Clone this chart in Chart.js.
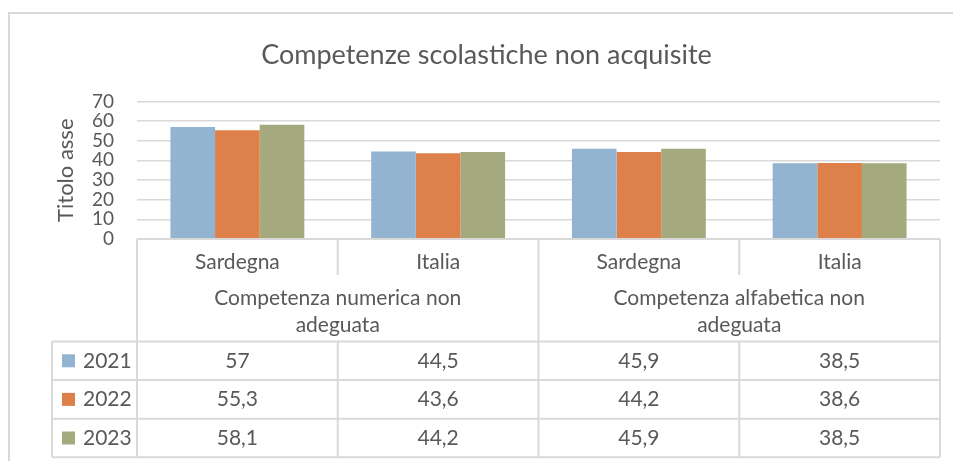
<!DOCTYPE html>
<html>
<head>
<meta charset="utf-8">
<script src="https://cdn.jsdelivr.net/npm/chart.js@4"></script>
<style>
    html, body { margin: 0; padding: 0; background: #fff; }
    canvas { display: block; }
</style>
</head>
<body>
<canvas id="competenzeChart" width="953" height="461"></canvas>
<script>
const categories = ['Sardegna', 'Italia', 'Sardegna', 'Italia'];
const groupLabels = [
    ['Competenza numerica non', 'adeguata'],
    ['Competenza alfabetica non', 'adeguata']
];
const years = ['2021', '2022', '2023'];
const values2021 = [57, 44.5, 45.9, 38.5];
const values2022 = [55.3, 43.6, 44.2, 38.6];
const values2023 = [58.1, 44.2, 45.9, 38.5];
const yTicks = [0, 10, 20, 30, 40, 50, 60, 70];

const rows = [values2021, values2022, values2023];
const colors = ['#93b4d1', '#de8049', '#a4aa7e'];
const textColor = '#595959';
const lineColor = '#d9d9d9';
const fontFamily = 'Lato, "Open Sans", sans-serif';

const fmt = v => String(v).replace('.', ',');

// frame + excel style data table under the plot
const dataTable = {
    id: 'dataTable',
    beforeDraw(chart) {
        const ctx = chart.ctx;
        ctx.save();
        ctx.fillStyle = '#fff';
        ctx.fillRect(0, 0, chart.width, chart.height);
        ctx.strokeStyle = lineColor;
        ctx.lineWidth = 2;
        ctx.strokeRect(9, 13, chart.width + 20, chart.height + 20);
        ctx.restore();
    },
    afterDraw(chart) {
        const ctx = chart.ctx;
        const xs = chart.scales.x;
        const area = chart.chartArea;
        const colW = (area.right - area.left) / categories.length;
        const edges = categories.map((c, i) => xs.getPixelForValue(i) - colW / 2);
        edges.push(xs.getPixelForValue(categories.length - 1) + colW / 2);

        const top = area.bottom;
        const headEnd = top + 102.5;
        const rowH = 38.6;
        const bottom = headEnd + rowH * years.length;
        const tableLeft = 52;

        ctx.save();
        ctx.strokeStyle = lineColor;
        ctx.lineWidth = 2;
        const line = (x1, y1, x2, y2) => {
            ctx.beginPath();
            ctx.moveTo(x1, y1);
            ctx.lineTo(x2, y2);
            ctx.stroke();
        };
        line(edges[0], top, edges[edges.length - 1], top);
        edges.forEach((ex, i) => {
            if (i % 2 === 0) line(ex, top, ex, bottom);
            else {
                line(ex, top, ex, top + 36);
                line(ex, headEnd, ex, bottom);
            }
        });
        for (let r = 0; r <= years.length; r++) {
            const y = headEnd + r * rowH;
            line(tableLeft, y, edges[edges.length - 1], y);
        }
        line(tableLeft, headEnd, tableLeft, bottom);

        ctx.fillStyle = textColor;
        ctx.font = '21px ' + fontFamily;
        ctx.textAlign = 'center';
        ctx.textBaseline = 'middle';
        categories.forEach((c, i) => {
            ctx.fillText(c, (edges[i] + edges[i + 1]) / 2, top + 23);
        });
        groupLabels.forEach((lines, g) => {
            const cx = (edges[g * 2] + edges[g * 2 + 2]) / 2;
            lines.forEach((t, k) => ctx.fillText(t, cx, top + 59 + k * 27));
        });
        rows.forEach((vals, r) => {
            const cy = headEnd + rowH * (r + 0.5);
            vals.forEach((v, i) => {
                ctx.fillText(fmt(v), (edges[i] + edges[i + 1]) / 2, cy);
            });
            ctx.fillStyle = colors[r];
            ctx.fillRect(62, cy - 6.5, 13, 13);
            ctx.fillStyle = textColor;
            ctx.textAlign = 'left';
            ctx.fillText(years[r], 83, cy);
            ctx.textAlign = 'center';
        });
        ctx.restore();
    }
};

new Chart(document.getElementById('competenzeChart'), {
    type: 'bar',
    data: {
        labels: categories,
        datasets: years.map((y, i) => ({
            label: y,
            data: rows[i],
            backgroundColor: colors[i],
            borderWidth: 0,
            categoryPercentage: 0.667,
            barPercentage: 1
        }))
    },
    options: {
        responsive: false,
        animation: false,
        events: [],
        layout: { padding: { left: 33, right: 13, top: 0, bottom: 222 } },
        plugins: {
            legend: { display: false },
            tooltip: { enabled: false },
            title: {
                display: true,
                text: 'Competenze scolastiche non acquisite',
                color: textColor,
                font: { family: fontFamily, size: 27, weight: 'normal' },
                padding: { top: 39, bottom: 30 }
            }
        },
        scales: {
            x: { display: false },
            y: {
                min: 0,
                max: 70,
                afterBuildTicks: s => { s.ticks = yTicks.map(v => ({ value: v })); },
                afterFit: s => { s.width = 104; },
                border: { display: false },
                grid: { color: lineColor, lineWidth: 1.5, drawTicks: false },
                ticks: {
                    color: textColor,
                    padding: 23,
                    autoSkip: false,
                    font: { family: fontFamily, size: 19 }
                },
                title: {
                    display: true,
                    text: 'Titolo asse',
                    color: textColor,
                    padding: { top: 20, bottom: 0 },
                    font: { family: fontFamily, size: 22 }
                }
            }
        }
    },
    plugins: [dataTable]
});
</script>
</body>
</html>
